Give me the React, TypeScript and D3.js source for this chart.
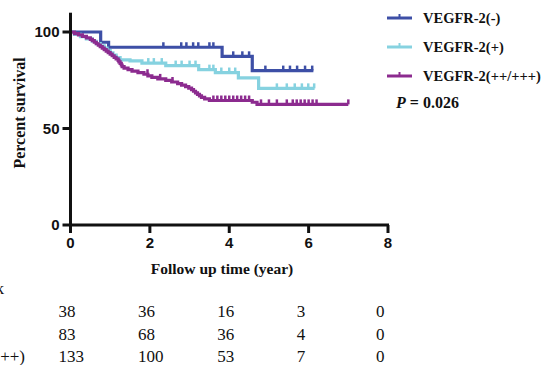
import { useEffect, useRef } from 'react';
import * as d3 from 'd3';

// Kaplan-Meier steps (time in years, percent survival after the event)
const negTimes = [0.76, 0.96, 3.82, 4.58];
const negSurv = [94.7, 92.1, 87.4, 80.0];
const negEnd = 6.12;
const negCensor = [2.34, 2.79, 2.92, 3.09, 3.22, 3.5, 3.6, 4.1, 4.33, 4.5, 4.91, 5.36, 5.53, 5.71, 5.91, 6.09];

const posTimes = [0.1, 0.25, 0.4, 0.55, 0.65, 0.75, 0.85, 0.92, 1.0, 1.07, 1.15, 1.25, 1.5, 1.8, 2.4, 3.23, 3.65, 4.23, 4.74];
const posSurv = [98.8, 97.6, 96.4, 95.2, 94.0, 92.8, 91.6, 90.4, 89.2, 88.0, 86.8, 85.6, 85.0, 83.9, 82.6, 80.5, 79.0, 76.2, 70.8];
const posEnd = 6.15;
const posCensor = [1.96, 2.1, 2.3, 2.65, 2.8, 3.0, 3.15, 3.5, 3.6, 3.8, 4.0, 4.15, 5.2, 5.45, 5.65, 5.83, 5.99, 6.14];

const highTimes = [0.1, 0.2, 0.3, 0.4, 0.5, 0.55, 0.6, 0.65, 0.7, 0.75, 0.8, 0.85, 0.9, 0.95, 1.0, 1.05, 1.1, 1.15, 1.2, 1.22, 1.25, 1.28, 1.3, 1.35, 1.45, 1.55, 1.7, 1.85, 1.95, 2.05, 2.2, 2.4, 2.55, 2.7, 2.8, 2.9, 2.98, 3.05, 3.1, 3.15, 3.2, 3.25, 3.3, 3.38, 3.5, 4.58, 4.7];
const highSurv = [99.2, 98.5, 97.7, 97.0, 96.2, 95.5, 94.7, 93.9, 93.2, 92.4, 91.6, 90.9, 90.1, 89.3, 88.5, 87.7, 86.9, 86.1, 85.3, 84.5, 83.7, 82.9, 82.1, 81.3, 80.5, 79.7, 78.9, 78.1, 77.3, 76.5, 75.7, 74.9, 74.1, 73.3, 72.5, 71.7, 70.9, 70.1, 69.3, 68.5, 67.7, 66.9, 66.1, 65.3, 64.5, 63.6, 62.5];
const highEnd = 7.0;
const highCensor = [1.94, 2.26, 2.57, 3.6, 3.7, 3.8, 3.9, 4.0, 4.1, 4.2, 4.3, 4.4, 4.5, 4.8, 5.0, 5.2, 5.45, 5.6, 5.7, 5.8, 5.9, 6.0, 6.1, 6.2, 7.0];

const groupNames = ['VEGFR-2(-)', 'VEGFR-2(+)', 'VEGFR-2(++/+++)'];
const groupColors = ['#3d4fa6', '#86d2e0', '#8c2b8f'];

const xTicks = [0, 2, 4, 6, 8];
const yTicks = [0, 50, 100];

const riskTimes = [0, 2, 4, 6, 8];
const riskNeg = [38, 36, 16, 3, 0];
const riskPos = [83, 68, 36, 4, 0];
const riskHigh = [133, 100, 53, 7, 0];

const pValue = '0.026';

const W = 541;
const H = 365;

export default function App() {
  const svgRef = useRef<SVGSVGElement>(null);

  useEffect(() => {
    if (!svgRef.current) return;
    const svg = d3.select(svgRef.current);
    svg.selectAll('*').remove();

    const x = d3.scaleLinear().domain([0, 8]).range([70.5, 388]);
    const y = d3.scaleLinear().domain([0, 100]).range([225, 32]);

    const series = [
      { times: negTimes, surv: negSurv, end: negEnd, censor: negCensor },
      { times: posTimes, surv: posSurv, end: posEnd, censor: posCensor },
      { times: highTimes, surv: highSurv, end: highEnd, censor: highCensor },
    ];

    const line = d3.line<[number, number]>()
      .x(d => x(d[0]))
      .y(d => y(d[1]))
      .curve(d3.curveStepAfter);

    const survAt = (s: typeof series[number], t: number) => {
      let v = 100;
      s.times.forEach((tt, i) => { if (tt <= t) v = s.surv[i]; });
      return v;
    };

    // curves
    series.forEach((s, i) => {
      const pts: [number, number][] = [[0, 100]];
      s.times.forEach((t, j) => pts.push([t, s.surv[j]]));
      pts.push([s.end, s.surv[s.surv.length - 1]]);

      svg.append('path')
        .attr('d', line(pts))
        .attr('fill', 'none')
        .attr('stroke', groupColors[i])
        .attr('stroke-width', 3.2)
        .attr('stroke-linejoin', 'miter');

      svg.append('g')
        .selectAll('line')
        .data(s.censor)
        .join('line')
        .attr('x1', d => x(d))
        .attr('x2', d => x(d))
        .attr('y1', d => y(survAt(s, d)))
        .attr('y2', d => y(survAt(s, d)) - 5)
        .attr('stroke', groupColors[i])
        .attr('stroke-width', 2.5);
    });

    // axes
    const axisColor = '#111';
    svg.append('line')
      .attr('x1', x(0)).attr('x2', x(0))
      .attr('y1', y(110)).attr('y2', y(0) + 1.5)
      .attr('stroke', axisColor).attr('stroke-width', 3);
    svg.append('line')
      .attr('x1', x(0) - 1.5).attr('x2', x(8) + 1)
      .attr('y1', y(0)).attr('y2', y(0))
      .attr('stroke', axisColor).attr('stroke-width', 3);

    svg.append('g')
      .selectAll('line')
      .data(yTicks)
      .join('line')
      .attr('x1', x(0) - 8).attr('x2', x(0))
      .attr('y1', d => y(d)).attr('y2', d => y(d))
      .attr('stroke', axisColor).attr('stroke-width', 3);
    svg.append('g')
      .selectAll('text')
      .data(yTicks)
      .join('text')
      .attr('x', x(0) - 11)
      .attr('y', d => y(d))
      .attr('dy', '0.36em')
      .attr('text-anchor', 'end')
      .attr('font-family', 'Arial, "Liberation Sans", sans-serif')
      .attr('font-weight', 700)
      .attr('font-size', 15)
      .attr('fill', axisColor)
      .text(d => d);

    svg.append('g')
      .selectAll('line')
      .data(xTicks)
      .join('line')
      .attr('x1', d => x(d)).attr('x2', d => x(d))
      .attr('y1', y(0)).attr('y2', y(0) + 8)
      .attr('stroke', axisColor).attr('stroke-width', 3);
    svg.append('g')
      .selectAll('text')
      .data(xTicks)
      .join('text')
      .attr('x', d => x(d))
      .attr('y', 248)
      .attr('text-anchor', 'middle')
      .attr('font-family', 'Arial, "Liberation Sans", sans-serif')
      .attr('font-weight', 700)
      .attr('font-size', 15)
      .attr('fill', axisColor)
      .text(d => d);

    // axis titles
    svg.append('text')
      .attr('transform', 'translate(25,113) rotate(-90)')
      .attr('text-anchor', 'middle')
      .attr('font-family', '"Liberation Serif", "Times New Roman", serif')
      .attr('font-weight', 700)
      .attr('font-size', 16)
      .attr('fill', axisColor)
      .text('Percent survival');
    svg.append('text')
      .attr('x', 222)
      .attr('y', 274)
      .attr('text-anchor', 'middle')
      .attr('font-family', '"Liberation Serif", "Times New Roman", serif')
      .attr('font-weight', 700)
      .attr('font-size', 15.5)
      .attr('fill', axisColor)
      .text('Follow up time (year)');

    // legend
    const legendY = [18, 47, 76];
    groupNames.forEach((name, i) => {
      const g = svg.append('g').attr('transform', `translate(387,${legendY[i]})`);
      g.append('line')
        .attr('x1', 0).attr('x2', 25)
        .attr('stroke', groupColors[i]).attr('stroke-width', 3);
      g.append('line')
        .attr('x1', 12.5).attr('x2', 12.5)
        .attr('y1', 0).attr('y2', -4)
        .attr('stroke', groupColors[i]).attr('stroke-width', 2);
      g.append('text')
        .attr('x', 36)
        .attr('dy', '0.35em')
        .attr('font-family', '"Liberation Serif", "Times New Roman", serif')
        .attr('font-weight', 700)
        .attr('font-size', 14.5)
        .attr('fill', axisColor)
        .text(name);
    });

    const p = svg.append('text')
      .attr('x', 396)
      .attr('y', 108)
      .attr('font-family', '"Liberation Serif", "Times New Roman", serif')
      .attr('font-weight', 700)
      .attr('font-size', 16)
      .attr('fill', axisColor);
    p.append('tspan').attr('font-style', 'italic').text('P');
    p.append('tspan').text(` = ${pValue}`);

    // number at risk table (row labels run off the left edge, as in the source figure)
    const serif = '"Liberation Serif", "Times New Roman", serif';
    svg.append('text')
      .attr('x', 4).attr('y', 294)
      .attr('text-anchor', 'end')
      .attr('font-family', serif)
      .attr('font-size', 17)
      .attr('fill', axisColor)
      .text('Number at risk');

    const rows = [riskNeg, riskPos, riskHigh];
    const rowY = [317, 340, 362];
    rows.forEach((vals, r) => {
      svg.append('text')
        .attr('x', 25).attr('y', rowY[r])
        .attr('text-anchor', 'end')
        .attr('font-family', serif)
        .attr('font-size', 17)
        .attr('fill', axisColor)
        .text(r === 2 ? groupNames[r] : '');
      svg.append('g')
        .selectAll('text')
        .data(vals)
        .join('text')
        .attr('x', (_, i) => x(riskTimes[i]) - 12)
        .attr('y', rowY[r])
        .attr('font-family', serif)
        .attr('font-size', 17)
        .attr('fill', axisColor)
        .text(d => d);
    });
  }, []);

  return (
    <svg
      ref={svgRef}
      width={W}
      height={H}
      style={{ position: 'absolute', left: 0, top: 0, background: '#fff' }}
    />
  );
}
